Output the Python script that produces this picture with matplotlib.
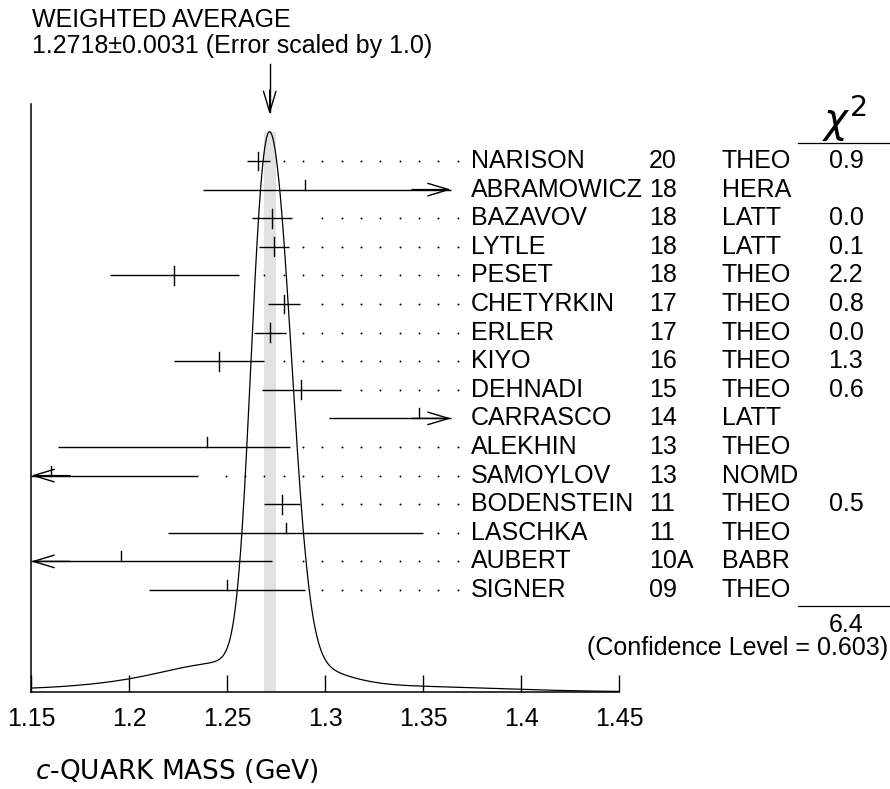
import numpy as np
import matplotlib
matplotlib.use("Agg")
import matplotlib.pyplot as plt
from matplotlib.transforms import blended_transform_factory
from matplotlib.patches import ArrowStyle

# ---- data ----
names = ["NARISON", "ABRAMOWICZ", "BAZAVOV", "LYTLE", "PESET", "CHETYRKIN", "ERLER", "KIYO",
         "DEHNADI", "CARRASCO", "ALEKHIN", "SAMOYLOV", "BODENSTEIN", "LASCHKA", "AUBERT", "SIGNER"]
years = ["20", "18", "18", "18", "18", "17", "17", "16", "15", "14", "13", "13", "11", "11", "10A", "09"]
techs = ["THEO", "HERA", "LATT", "LATT", "THEO", "THEO", "THEO", "THEO", "THEO", "LATT", "THEO",
         "NOMD", "THEO", "THEO", "BABR", "THEO"]
chi2 = ["0.9", "", "0.0", "0.1", "2.2", "0.8", "0.0", "1.3", "0.6", "", "", "", "0.5", "", "", ""]
values = [1.266, 1.290, 1.273, 1.274, 1.223, 1.279, 1.272, 1.246, 1.288, 1.348, 1.240, 1.160,
          1.278, 1.280, 1.196, 1.250]
err_lo = [0.006, 0.052, 0.010, 0.0075, 0.0325, 0.008, 0.008, 0.023, 0.020, 0.046, 0.076, 0.075,
          0.009, 0.060, 0.077, 0.040]
err_hi = [0.006, 0.078, 0.010, 0.0075, 0.033, 0.008, 0.008, 0.023, 0.020, 0.046, 0.042, 0.075,
          0.009, 0.070, 0.077, 0.040]
avg, avg_err = 1.2718, 0.0031
chi2_total = "6.4"
conf_level = "0.603"
xticks = [1.15, 1.2, 1.25, 1.3, 1.35, 1.4, 1.45]
xticklabels = ["1.15", "1.2", "1.25", "1.3", "1.35", "1.4", "1.45"]

# ---- layout (pixels of a 890x789 canvas) ----
W, H = 890, 789
row0_px, row_step = 161.0, 28.6


def row(px):
    return (px - row0_px) / row_step


y_bot = row(692)
y_top = row(0)
y_peak = row(131.7)
x_clip = (1.15, 1.3643)

helv = ["Liberation Sans", "DejaVu Sans"]
fs = 18

fig = plt.figure(figsize=(W / 100, H / 100), dpi=100)
ax = fig.add_axes([31 / W, (H - 692) / H, 588 / W, 692 / H])
ax.set_xlim(1.15, 1.45)
ax.set_ylim(y_bot, y_top)
ax.patch.set_visible(False)

for s in ["top", "right"]:
    ax.spines[s].set_visible(False)
ax.spines["left"].set_bounds(y_bot, row(104))
ax.spines["left"].set_linewidth(1.1)
ax.spines["bottom"].set_linewidth(1.1)
ax.set_yticks([])
ax.set_xticks(xticks)
ax.set_xticklabels(xticklabels, family=helv, fontsize=fs)
ax.tick_params(axis="x", direction="in", length=12.2, width=1.0, pad=11)

# band of the weighted average
ax.fill_betweenx([y_peak, y_bot], avg - avg_err, avg + avg_err, color="#e2e2e2", lw=0, zorder=0)

# ideogram
xs = np.linspace(1.15, 1.45, 1501)
g = np.zeros_like(xs)
for v, lo, hi in zip(values, err_lo, err_hi):
    s = np.where(xs < v, lo, hi)
    sb = 0.5 * (lo + hi)
    g += np.exp(-0.5 * ((xs - v) / s) ** 2) / sb ** 2
g = g / g.max()
ax.plot(xs, y_bot - g * (y_bot - y_peak), color="black", lw=0.9, zorder=3)

# dotted leaders grid
dot_x = 1.2789 + 0.00986 * np.arange(-13, 10)
arrow_style = ArrowStyle("->", head_length=1.5, head_width=0.45)
arrow_kw = dict(arrowstyle=arrow_style, lw=1.0, color="black", shrinkA=0, shrinkB=0, mutation_scale=10)

for i, (v, lo, hi) in enumerate(zip(values, err_lo, err_hi)):
    y = i
    left, right = v - lo, v + hi
    l_c, r_c = max(left, x_clip[0]), min(right, x_clip[1])
    ax.plot([l_c, r_c], [y, y], color="black", lw=1.0, solid_capstyle="butt", zorder=4)
    if left < x_clip[0]:
        ax.annotate("", xy=(x_clip[0], y), xytext=(x_clip[0] + 0.02, y), arrowprops=arrow_kw)
    if right > x_clip[1]:
        ax.annotate("", xy=(x_clip[1], y), xytext=(x_clip[1] - 0.02, y), arrowprops=arrow_kw)
    if chi2[i]:
        ax.plot([v, v], [y - 0.33, y + 0.33], color="black", lw=1.0, zorder=4)
    else:
        ax.plot([v, v], [y - 0.35, y], color="black", lw=1.0, zorder=4)
    if right <= x_clip[1]:
        d = dot_x[dot_x > right + 0.0066]
        ax.plot(d, np.full(len(d), y), ls="none", marker="o", ms=1.4, mew=0, color="black", zorder=2)

# weighted average arrow
ax.plot([avg, avg], [row(64), row(112)], color="black", lw=1.0)
ax.annotate("", xy=(avg, row(114.5)), xytext=(avg, row(90)), arrowprops=arrow_kw)

# right-hand table
tr = blended_transform_factory(fig.transFigure, ax.transData)
for i in range(len(names)):
    ax.text(471 / W, i, names[i], transform=tr, family=helv, fontsize=fs, va="center", ha="left")
    ax.text(649 / W, i, years[i], transform=tr, family=helv, fontsize=fs, va="center", ha="left")
    ax.text(722 / W, i, techs[i], transform=tr, family=helv, fontsize=fs, va="center", ha="left")
    if chi2[i]:
        ax.text(846 / W, i, chi2[i], transform=tr, family=helv, fontsize=fs, va="center", ha="center")

fig.text(844 / W, 1 - 133 / H, r"$\chi^{\mathregular{2}}$", fontsize=29, va="baseline", ha="center")
ax.plot([798 / W, 889 / W], [row(143.3)] * 2, transform=tr, color="black", lw=0.9, clip_on=False)
ax.plot([798 / W, 889 / W], [row(606)] * 2, transform=tr, color="black", lw=0.9, clip_on=False)
ax.text(846 / W, row(625), chi2_total, transform=tr, family=helv, fontsize=fs, va="center", ha="center")
ax.text(888 / W, row(648), "(Confidence Level = " + conf_level + ")", transform=tr,
        family=helv, fontsize=fs, va="center", ha="right")

# titles
fig.text(32 / W, 1 - 27 / H, "WEIGHTED AVERAGE", family=helv, fontsize=fs, va="baseline")
fig.text(32 / W, 1 - 53 / H, "%.4f\u00b1%.4f (Error scaled by 1.0)" % (avg, avg_err),
         family=helv, fontsize=fs, va="baseline")
fig.text(35 / W, 1 - 771 / H, r"$c$-QUARK MASS (GeV)", family="DejaVu Sans", fontsize=19, va="center")

fig.savefig("out.png", dpi=100)
